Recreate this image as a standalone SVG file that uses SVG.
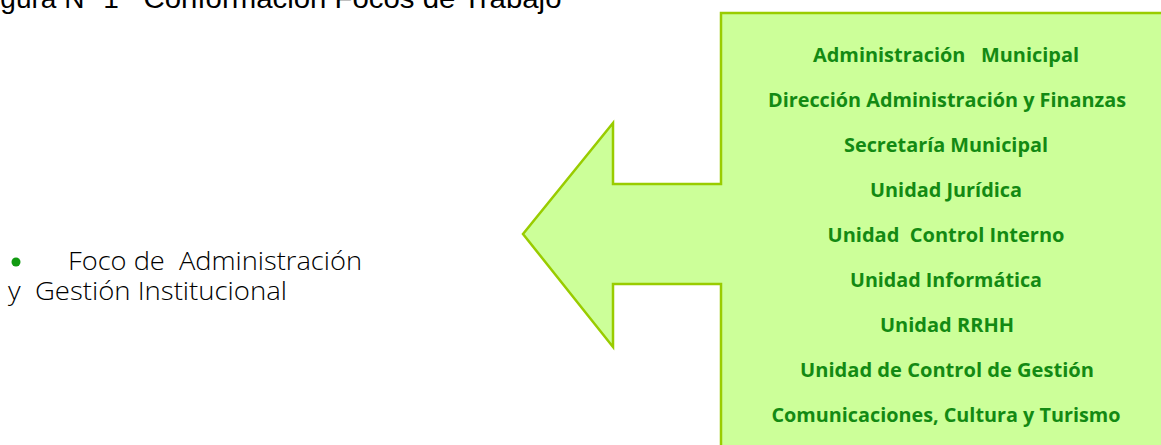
<svg xmlns="http://www.w3.org/2000/svg" width="1161" height="445" viewBox="0 0 1161 445">
<style>
.t{font-family:"Liberation Sans",Arial,sans-serif;font-size:28px;fill:#000}
.l{font-family:"Open Sans","Noto Sans",sans-serif;font-weight:300;font-size:25px;fill:#000;white-space:pre}
.u{font-family:"Open Sans","Noto Sans",sans-serif;font-weight:700;font-size:20px;fill:#138a13;text-anchor:middle;white-space:pre}
</style>
<rect width="1161" height="445" fill="#fff"/>
<g id="title"><text class="t" y="7.5"><tspan x="-23">Figura N° 1</tspan><tspan x="143.5" textLength="418" lengthAdjust="spacingAndGlyphs">Conformación Focos de Trabajo</tspan></text></g>
<g id="foco">
<circle cx="16" cy="262" r="4.5" fill="#119a11"/>
<text class="l" x="68" y="270" xml:space="preserve" textLength="294" lengthAdjust="spacingAndGlyphs">Foco de  Administración</text>
<text class="l" x="8" y="300" xml:space="preserve" textLength="279" lengthAdjust="spacingAndGlyphs">y  Gestión Institucional</text>
</g>
<g id="connectors">
<path d="M1170,13 L721,13 L721,184 L613,184 L613,123 L523,234 L613,347 L613,284 L721,284 L721,450 L1170,450 Z" fill="#ccff99" stroke="#99cc00" stroke-width="2.5"/>
</g>
<g id="units">
<text class="u" x="946" y="62" xml:space="preserve" textLength="266" lengthAdjust="spacingAndGlyphs">Administración   Municipal</text>
<text class="u" x="947" y="107" textLength="358" lengthAdjust="spacingAndGlyphs">Dirección Administración y Finanzas</text>
<text class="u" x="946" y="152" textLength="204" lengthAdjust="spacingAndGlyphs">Secretaría Municipal</text>
<text class="u" x="946" y="197" textLength="152" lengthAdjust="spacingAndGlyphs">Unidad Jurídica</text>
<text class="u" x="946" y="242" xml:space="preserve" textLength="237" lengthAdjust="spacingAndGlyphs">Unidad  Control Interno</text>
<text class="u" x="946" y="287" textLength="192" lengthAdjust="spacingAndGlyphs">Unidad Informática</text>
<text class="u" x="947" y="332" textLength="134" lengthAdjust="spacingAndGlyphs">Unidad RRHH</text>
<text class="u" x="947" y="377" textLength="294" lengthAdjust="spacingAndGlyphs">Unidad de Control de Gestión</text>
<text class="u" x="946" y="422" textLength="349" lengthAdjust="spacingAndGlyphs">Comunicaciones, Cultura y Turismo</text>
</g>
</svg>
